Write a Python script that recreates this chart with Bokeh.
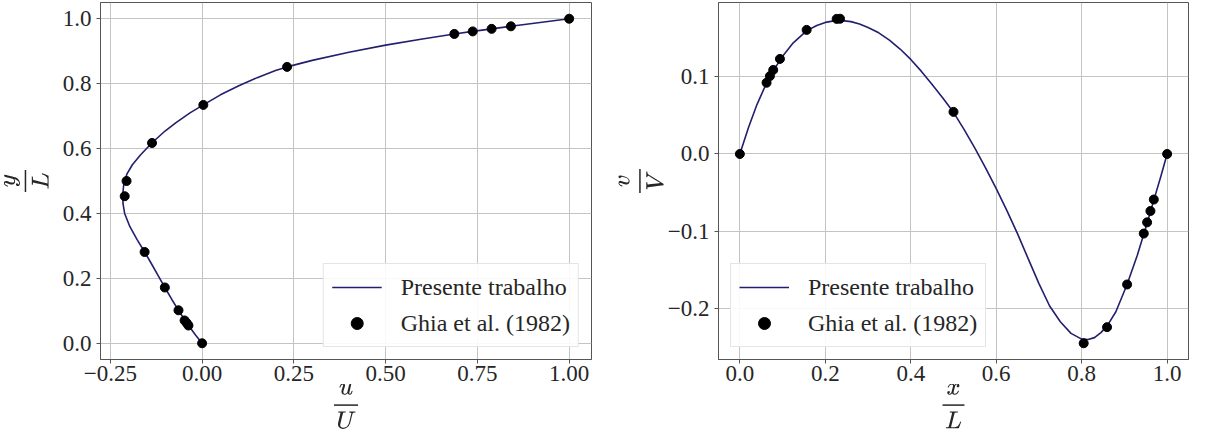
from bokeh.plotting import figure
from bokeh.layouts import row
from bokeh.models import Range1d, FixedTicker, CustomJSTickFormatter, Legend
from bokeh.embed import file_html
from bokeh.resources import INLINE

# ---- Left panel: u/U along vertical centreline ----
ghia_y = [1.0000, 0.9766, 0.9688, 0.9609, 0.9531, 0.8516, 0.7344, 0.6172, 0.5000,
          0.4531, 0.2813, 0.1719, 0.1016, 0.0703, 0.0625, 0.0547, 0.0000]
ghia_u = [1.00000, 0.84123, 0.78871, 0.73722, 0.68717, 0.23151, 0.00332, -0.13641,
          -0.20581, -0.21090, -0.15662, -0.10150, -0.06434, -0.04775, -0.04192, -0.03717, 0.00000]

sim_y = [0.0, 0.025, 0.0547, 0.0703, 0.1016, 0.135, 0.1719, 0.21, 0.245, 0.2813, 0.32,
         0.36, 0.40, 0.43, 0.46, 0.49, 0.521, 0.55, 0.58, 0.617, 0.654, 0.68, 0.71,
         0.7344, 0.7655, 0.7935, 0.8185, 0.8405, 0.8516, 0.8716, 0.8966, 0.9186, 0.9376,
         0.9531, 0.9609, 0.9688, 0.9766, 1.0]
sim_u = [0.0, -0.0175, -0.037, -0.0465, -0.0643, -0.0825, -0.1015, -0.1205, -0.138, -0.1566,
         -0.1775, -0.197, -0.211, -0.2155, -0.216, -0.2135, -0.205, -0.190, -0.168, -0.137,
         -0.101, -0.071, -0.033, 0.0033, 0.05, 0.10, 0.15, 0.20, 0.2315, 0.30, 0.40, 0.50,
         0.60, 0.687, 0.737, 0.789, 0.841, 1.0]

# ---- Right panel: v/V along horizontal centreline ----
ghia_x = [1.0000, 0.9688, 0.9609, 0.9531, 0.9453, 0.9063, 0.8594, 0.8047, 0.5000,
          0.2344, 0.2266, 0.1563, 0.0938, 0.0781, 0.0703, 0.0625, 0.0000]
ghia_v = [0.00000, -0.05906, -0.07391, -0.08864, -0.10313, -0.16914, -0.22445, -0.24533,
          0.05454, 0.17527, 0.17507, 0.16077, 0.12317, 0.10890, 0.10091, 0.09233, 0.00000]

sim_x = [0.0, 0.02, 0.04, 0.0625, 0.08, 0.10, 0.125, 0.156, 0.18, 0.20, 0.22, 0.24, 0.26,
         0.28, 0.30, 0.325, 0.35, 0.375, 0.40, 0.425, 0.45, 0.475, 0.50, 0.525, 0.55,
         0.575, 0.60, 0.625, 0.65, 0.675, 0.70, 0.725, 0.75, 0.775, 0.80, 0.815, 0.83,
         0.845, 0.86, 0.88, 0.906, 0.93, 0.953, 0.969, 0.985, 1.0]
sim_v = [0.0, 0.034, 0.064, 0.092, 0.1095, 0.1265, 0.144, 0.1595, 0.1665, 0.1705, 0.1725,
         0.1728, 0.1715, 0.1685, 0.164, 0.157, 0.1475, 0.136, 0.1225, 0.107, 0.090, 0.0725,
         0.054, 0.0315, 0.0075, -0.018, -0.045, -0.0735, -0.1035, -0.136, -0.168, -0.197,
         -0.2175, -0.2325, -0.240, -0.2405, -0.238, -0.2315, -0.2225, -0.2045, -0.1695,
         -0.1315, -0.090, -0.0595, -0.0295, 0.0]

u_ticks = [-0.25, 0.0, 0.25, 0.5, 0.75, 1.0]
y_ticks = [0.0, 0.2, 0.4, 0.6, 0.8, 1.0]
x_ticks = [0.0, 0.2, 0.4, 0.6, 0.8, 1.0]
v_ticks = [-0.2, -0.1, 0.0, 0.1]

LEG_LINE = "Presente trabalho"
LEG_PTS = "Ghia et al. (1982)"

FONT = "Liberation Serif"
LINE_COLOR = "#221f6e"
SPINE = "#555555"
TEXT = "#262626"


def padded(vals):
    lo, hi = min(vals), max(vals)
    m = 0.05 * (hi - lo)
    return Range1d(lo - m, hi + m)


def fmt(dec):
    return CustomJSTickFormatter(code="return tick.toFixed(%d).replace('-', '\\u2212');" % dec)


def style(p, xdec, ydec, xt, yt, xlabel, ylabel, ystand):
    p.background_fill_color = "white"
    p.border_fill_color = "white"
    p.outline_line_color = SPINE
    p.outline_line_width = 1
    p.xaxis.ticker = FixedTicker(ticks=xt)
    p.yaxis.ticker = FixedTicker(ticks=yt)
    p.xaxis.formatter = fmt(xdec)
    p.yaxis.formatter = fmt(ydec)
    for ax in (p.xaxis, p.yaxis):
        ax.axis_line_color = SPINE
        ax.major_tick_line_color = SPINE
        ax.major_tick_in = 0
        ax.major_tick_out = 4
        ax.minor_tick_line_color = None
        ax.major_label_text_font = FONT
        ax.major_label_text_font_size = "23px"
        ax.major_label_text_color = TEXT
        ax.axis_label_text_font_size = "20px"
        ax.axis_label_text_color = TEXT
    p.xaxis.major_label_standoff = 2
    p.yaxis.major_label_standoff = 5
    p.xaxis.axis_label = xlabel
    p.yaxis.axis_label = ylabel
    p.xaxis.axis_label_standoff = 0
    p.yaxis.axis_label_standoff = ystand
    p.grid.grid_line_color = "#c4c4c4"
    p.grid.grid_line_width = 1


def add_legend(p, r_line, r_pts, loc):
    leg = Legend(items=[(LEG_LINE, [r_line]), (LEG_PTS, [r_pts])], location=loc)
    leg.label_text_font = FONT
    leg.label_text_font_size = "24px"
    leg.label_text_color = TEXT
    leg.glyph_width = 50
    leg.glyph_height = 30
    leg.label_height = 30
    leg.label_standoff = 19
    leg.spacing = 6
    leg.padding = 8
    leg.margin = 12
    leg.border_line_color = "#cccccc"
    leg.border_line_width = 1
    leg.background_fill_color = "white"
    leg.background_fill_alpha = 0.9
    p.add_layout(leg, "center")


p1 = figure(width=612, height=431, output_backend="svg", toolbar_location=None,
            x_range=padded(ghia_u + sim_u), y_range=padded(ghia_y + sim_y),
            min_border_left=90, min_border_right=21, min_border_top=2, min_border_bottom=40)
style(p1, 2, 1, u_ticks, y_ticks, r"$$\frac{u}{U}$$", r"$$\frac{y}{L}$$", 11)
l1 = p1.line(sim_u, sim_y, line_color=LINE_COLOR, line_width=1.6)
s1 = p1.scatter(ghia_u, ghia_y, size=9, color="black")
add_legend(p1, l1, s1, "bottom_right")

p2 = figure(width=578, height=431, output_backend="svg", toolbar_location=None,
            x_range=padded(ghia_x), y_range=padded(ghia_v),
            min_border_left=106, min_border_right=2, min_border_top=2, min_border_bottom=40)
style(p2, 1, 1, x_ticks, v_ticks, r"$$\frac{x}{L}$$", r"$$\frac{v}{V}$$", 1)
l2 = p2.line(sim_x, sim_v, line_color=LINE_COLOR, line_width=1.6)
s2 = p2.scatter(ghia_x, ghia_v, size=9, color="black")
add_legend(p2, l2, s2, "bottom_left")

layout = row(p1, p2)
open("out.html", "w").write(file_html(layout, INLINE))
